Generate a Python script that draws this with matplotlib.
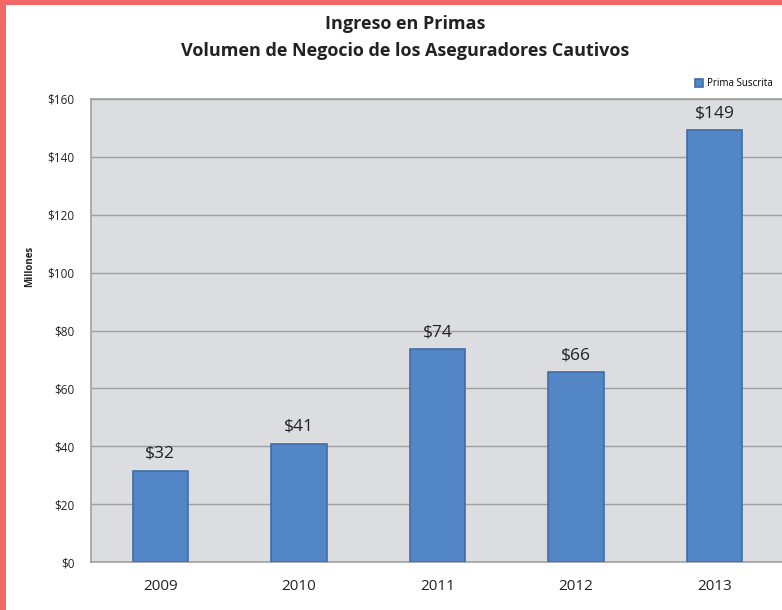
import matplotlib.pyplot as plt
from matplotlib.patches import Rectangle

# data
years = ["2009", "2010", "2011", "2012", "2013"]
prima = [31.6, 40.9, 73.6, 65.6, 149.2]
yticks = [0, 20, 40, 60, 80, 100, 120, 140, 160]

plt.rcParams['font.family'] = ['Open Sans', 'DejaVu Sans']

fig = plt.figure(figsize=(7.82, 6.10), dpi=100)
fig.patch.set_facecolor("white")

# pink frame on the left and top edges
fig.patches.append(Rectangle((0, 0), 6 / 782, 1, transform=fig.transFigure,
                             facecolor="#F26767", edgecolor="none", zorder=-1))
fig.patches.append(Rectangle((0, 1 - 5 / 610), 1, 5 / 610, transform=fig.transFigure,
                             facecolor="#F26767", edgecolor="none", zorder=-1))

ax = fig.add_axes([91 / 782, 48 / 610, 693 / 782, 463 / 610])
ax.set_facecolor("#DCDDE0")

x = range(len(years))
bars = ax.bar(x, prima, width=0.4, color="#5386C6", edgecolor="#3F6DA6",
              linewidth=1.2, zorder=3, label="Prima Suscrita")

for b, v in zip(bars, prima):
    ax.text(b.get_x() + b.get_width() / 2, v + 3, "${:.0f}".format(v),
            ha="center", va="bottom", fontsize=12.5, color="#222222")

ax.set_xlim(-0.5, 4.5)
ax.set_ylim(0, 160)
ax.set_yticks(yticks)
ax.set_yticklabels(["${}".format(t) for t in yticks], fontsize=8.5, color="#222222")
ax.set_xticks(list(x))
ax.set_xticklabels(years, fontsize=11, color="#222222")
ax.tick_params(length=0, pad=12)
ax.tick_params(axis="y", pad=12)
ax.grid(axis="y", color="#9E9E9E", linewidth=1, zorder=1)
ax.set_axisbelow(True)

for s in ["left", "bottom", "top"]:
    ax.spines[s].set_color("#A0A0A0")
    ax.spines[s].set_linewidth(1.2)
ax.spines["right"].set_visible(False)

fig.text(30 / 782, 1 - 266 / 610, "Millones", rotation=90, ha="center", va="center",
         fontsize=7, fontweight="bold", color="#222222")

fig.text(405 / 782, 1 - 24 / 610, "Ingreso en Primas", ha="center", va="center",
         fontsize=13, fontweight="bold", color="#222222")
fig.text(405 / 782, 1 - 51 / 610, "Volumen de Negocio de los Aseguradores Cautivos",
         ha="center", va="center", fontsize=13, fontweight="bold", color="#222222")

leg = fig.legend(loc="center left", bbox_to_anchor=(695 / 782, 1 - 84 / 610),
                 frameon=False, fontsize=7, handlelength=0.8, handleheight=0.8,
                 handletextpad=0.4, borderpad=0, borderaxespad=0)

fig.savefig("out.png", dpi=100, facecolor=fig.get_facecolor())
